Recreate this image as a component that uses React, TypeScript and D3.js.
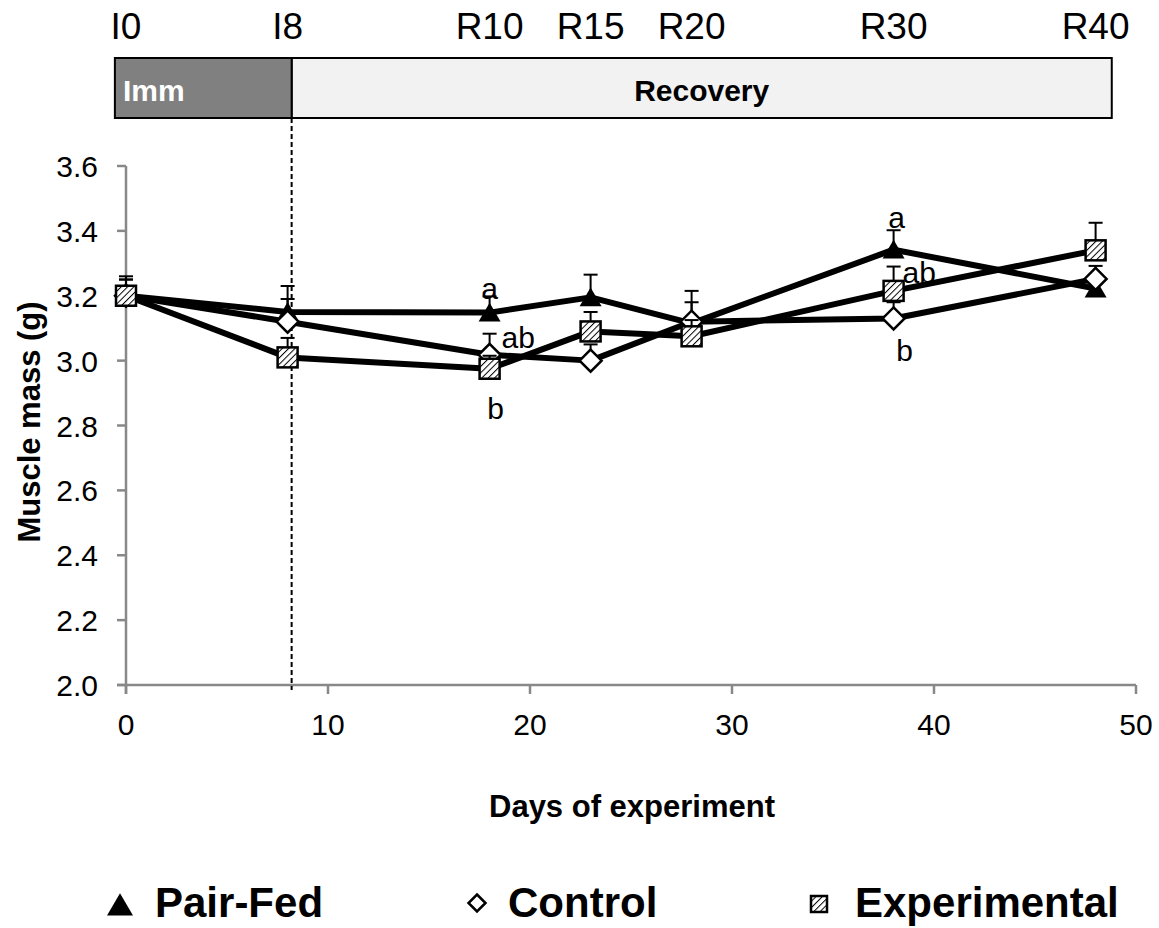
import React from "react";
import * as d3 from "d3";

const days = [0, 8, 18, 23, 28, 38, 48];
const pairFed = [3.2, 3.15, 3.148, 3.195, 3.115, 3.342, 3.222];
const pairFedErr = [0.05, 0.08, 0.05, 0.07, 0.1, 0.06, 0.04];
const control = [3.2, 3.12, 3.018, 3.0, 3.12, 3.13, 3.252];
const controlErr = [0.05, 0.07, 0.065, 0.05, 0.06, 0.05, 0.04];
const experimental = [3.2, 3.01, 2.975, 3.09, 3.075, 3.215, 3.34];
const experimentalErr = [0.06, 0.06, 0.04, 0.06, 0.05, 0.075, 0.085];

const phaseLabels = ["I0", "I8", "R10", "R15", "R20", "R30", "R40"];
const phaseDays = [0, 8, 18, 23, 28, 38, 48];
const immRange = [-0.55, 8.2];
const recRange = [8.2, 48.8];
const cutDay = 8.2;

const yTicks = [2.0, 2.2, 2.4, 2.6, 2.8, 3.0, 3.2, 3.4, 3.6];
const xTicks = [0, 10, 20, 30, 40, 50];

const sigLabels: { day: number; v: number; text: string; anchor: string; dx: number }[] = [
  { day: 18, v: 3.19, text: "a", anchor: "middle", dx: 0 },
  { day: 18, v: 3.04, text: "ab", anchor: "start", dx: 12 },
  { day: 18, v: 2.82, text: "b", anchor: "middle", dx: 6 },
  { day: 38, v: 3.41, text: "a", anchor: "middle", dx: 3 },
  { day: 38, v: 3.24, text: "ab", anchor: "start", dx: 9 },
  { day: 38, v: 3.0, text: "b", anchor: "middle", dx: 11 },
];

const FONT = "'Liberation Sans', Arial, Helvetica, sans-serif";

const x = d3.scaleLinear().domain([0, 50]).range([126, 1136]);
const y = d3.scaleLinear().domain([2.0, 3.6]).range([685, 166]);

const line = d3
  .line<number>()
  .x((_, i) => x(days[i]))
  .y((d) => y(d));

const Triangle = ({ cx, cy, s = 22 }: { cx: number; cy: number; s?: number }) => (
  <path
    d={`M${cx},${cy - s * 0.45} L${cx + s / 2},${cy + s * 0.4} L${cx - s / 2},${cy + s * 0.4} Z`}
    fill="#000"
  />
);
const Diamond = ({ cx, cy, s = 22 }: { cx: number; cy: number; s?: number }) => (
  <path
    d={`M${cx},${cy - s / 2} L${cx + s / 2},${cy} L${cx},${cy + s / 2} L${cx - s / 2},${cy} Z`}
    fill="#fff"
    stroke="#000"
    strokeWidth={2.5}
  />
);
const Square = ({ cx, cy, s = 20 }: { cx: number; cy: number; s?: number }) => (
  <rect
    x={cx - s / 2}
    y={cy - s / 2}
    width={s}
    height={s}
    fill="url(#hatch)"
    stroke="#000"
    strokeWidth={2.5}
  />
);

const ErrBars = ({ vals, errs }: { vals: number[]; errs: number[] }) => (
  <g stroke="#000" strokeWidth={2}>
    {vals.map((v, i) => (
      <g key={i}>
        <line x1={x(days[i])} x2={x(days[i])} y1={y(v)} y2={y(v + errs[i])} />
        <line x1={x(days[i]) - 7} x2={x(days[i]) + 7} y1={y(v + errs[i])} y2={y(v + errs[i])} />
      </g>
    ))}
  </g>
);

export default function App() {
  return (
    <svg
      width={1159}
      height={928}
      style={{ position: "absolute", left: 0, top: 0, background: "#fff" }}
      fontFamily={FONT}
    >
      <defs>
        <pattern id="hatch" patternUnits="userSpaceOnUse" width={4.5} height={4.5} patternTransform="rotate(45)">
          <rect width={4.5} height={4.5} fill="#fff" />
          <line x1={0} y1={0} x2={0} y2={4.5} stroke="#000" strokeWidth={2} />
        </pattern>
      </defs>
      <rect width={1159} height={928} fill="#fff" />

      {phaseLabels.map((t, i) => (
        <text key={t} x={x(phaseDays[i])} y={39} fontSize={37} textAnchor="middle" fill="#000">
          {t}
        </text>
      ))}

      <rect
        x={x(recRange[0])}
        y={58}
        width={x(recRange[1]) - x(recRange[0])}
        height={60}
        fill="#f2f2f2"
        stroke="#000"
        strokeWidth={2}
      />
      <rect
        x={x(immRange[0])}
        y={58}
        width={x(immRange[1]) - x(immRange[0])}
        height={60}
        fill="#808080"
        stroke="#000"
        strokeWidth={2}
      />
      <text x={x(immRange[0]) + 8} y={101} fontSize={30} fontWeight="bold" fill="#fff">
        Imm
      </text>
      <text
        x={(x(recRange[0]) + x(recRange[1])) / 2}
        y={101}
        fontSize={30}
        fontWeight="bold"
        textAnchor="middle"
        fill="#000"
      >
        Recovery
      </text>

      <g stroke="#888" strokeWidth={2.5}>
        <line x1={x(0)} x2={x(0)} y1={y(3.6)} y2={694} />
        <line x1={117} x2={x(50)} y1={y(2.0)} y2={y(2.0)} />
        {yTicks.map((t) => (
          <line key={t} x1={117} x2={x(0)} y1={y(t)} y2={y(t)} />
        ))}
        {xTicks.map((t) => (
          <line key={t} x1={x(t)} x2={x(t)} y1={y(2.0)} y2={694} />
        ))}
      </g>
      {yTicks.map((t) => (
        <text key={t} x={98} y={y(t) + 11} fontSize={30} textAnchor="end" fill="#000">
          {t.toFixed(1)}
        </text>
      ))}
      {xTicks.map((t) => (
        <text key={t} x={x(t)} y={735} fontSize={30} textAnchor="middle" fill="#000">
          {t}
        </text>
      ))}
      <text x={632} y={817} fontSize={31} fontWeight="bold" textAnchor="middle" fill="#000">
        Days of experiment
      </text>
      <text
        transform={`translate(40,422) rotate(-90)`}
        fontSize={31}
        fontWeight="bold"
        textAnchor="middle"
        fill="#000"
      >
        Muscle mass (g)
      </text>

      <line x1={x(cutDay)} x2={x(cutDay)} y1={118} y2={690} stroke="#000" strokeWidth={2} strokeDasharray="5,3" />

      <ErrBars vals={pairFed} errs={pairFedErr} />
      <path d={line(pairFed) || ""} fill="none" stroke="#000" strokeWidth={6} strokeLinejoin="round" />
      {pairFed.map((v, i) => (
        <Triangle key={i} cx={x(days[i])} cy={y(v)} />
      ))}

      <ErrBars vals={control} errs={controlErr} />
      <path d={line(control) || ""} fill="none" stroke="#000" strokeWidth={6} strokeLinejoin="round" />
      {control.map((v, i) => (
        <Diamond key={i} cx={x(days[i])} cy={y(v)} />
      ))}

      <ErrBars vals={experimental} errs={experimentalErr} />
      <path d={line(experimental) || ""} fill="none" stroke="#000" strokeWidth={6} strokeLinejoin="round" />
      {experimental.map((v, i) => (
        <Square key={i} cx={x(days[i])} cy={y(v)} />
      ))}

      {sigLabels.map((s, i) => (
        <text
          key={i}
          x={x(s.day) + s.dx}
          y={y(s.v)}
          fontSize={30}
          textAnchor={s.anchor as any}
          fill="#000"
        >
          {s.text}
        </text>
      ))}

      <Triangle cx={120} cy={905} s={26} />
      <text x={155} y={917} fontSize={42} fontWeight="bold" fill="#000">
        Pair-Fed
      </text>
      <Diamond cx={477} cy={903} s={17} />
      <text x={508} y={917} fontSize={42} fontWeight="bold" fill="#000">
        Control
      </text>
      <Square cx={819} cy={904} s={16} />
      <text x={855} y={917} fontSize={42} fontWeight="bold" fill="#000">
        Experimental
      </text>
    </svg>
  );
}
